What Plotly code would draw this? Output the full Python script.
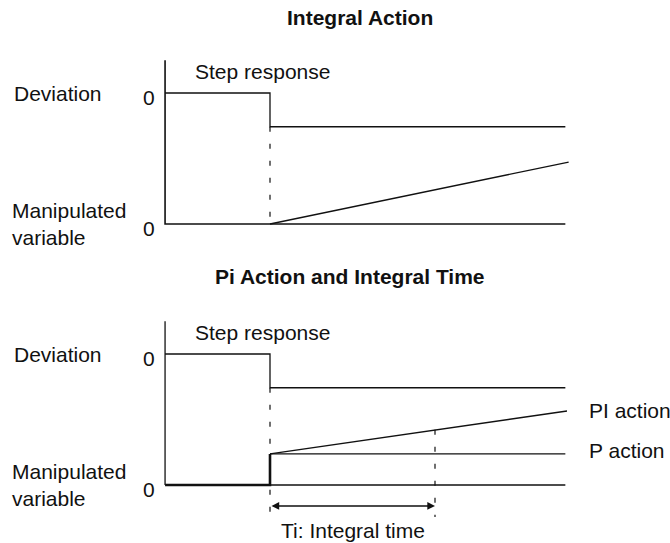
import plotly.graph_objects as go

# time axis: step at t = 0, integral time Ti = 1
t_axis = -0.636
t_step = 0.0
t_end = 1.79
Ti = 1.0

# deviation levels (same in both panels)
dev_zero = 4.0
dev_after = 2.97
axis_top = 5.0
mv_zero = 0.0

# integral action (top panel)
i_time = [0.0, 1.81]
i_value = [0.0, 1.89]

# PI action (bottom panel)
p_level = 0.95
pi_time = [0.0, 1.8]
pi_value = [0.95, 2.26]
pi_at_ti = 1.69
dash_bottom = -0.98
arrow_level = -0.64

FONT = "Liberation Sans, Arial, sans-serif"
BLACK = "#111111"

fig = go.Figure()


def line(x, y, xa, ya, width=1.3, dash=None):
    fig.add_trace(go.Scatter(x=x, y=y, xaxis=xa, yaxis=ya, mode="lines",
                             line=dict(color=BLACK, width=width, dash=dash),
                             hoverinfo="skip", showlegend=False))


# ---- top panel: integral action
line([t_axis, t_axis, t_end], [axis_top, mv_zero, mv_zero], "x", "y", 1.6)
line([t_axis, t_step, t_step, t_end], [dev_zero, dev_zero, dev_after, dev_after], "x", "y")
line([t_step, t_step], [dev_after, mv_zero], "x", "y", 1.2, "5px,12px")
line(i_time, i_value, "x", "y")

# ---- bottom panel: PI action and integral time
line([t_axis, t_axis], [axis_top, mv_zero], "x2", "y2", 1.3)
line([t_axis, t_step, t_step], [mv_zero, mv_zero, p_level], "x2", "y2", 2.6)
line([t_step, t_end], [mv_zero, mv_zero], "x2", "y2", 1.3)
line([t_axis, t_step, t_step, t_end], [dev_zero, dev_zero, dev_after, dev_after], "x2", "y2")
line([t_step, t_end], [p_level, p_level], "x2", "y2")
line(pi_time, pi_value, "x2", "y2")
line([t_step, t_step], [dev_after, dash_bottom], "x2", "y2", 1.2, "5px,12px")
line([Ti, Ti], [pi_at_ti, dash_bottom], "x2", "y2", 1.2, "5px,12px")

txt = dict(size=21, color=BLACK, family=FONT)
ann = []
for xa, ya in [("x", "y"), ("x2", "y2")]:
    ann += [
        dict(x=-1.564, y=dev_zero, xref=xa, yref=ya, text="Deviation",
             xanchor="left", yanchor="middle", showarrow=False, font=txt),
        dict(x=-1.576, y=mv_zero, xref=xa, yref=ya, text="Manipulated<br>variable",
             xanchor="left", yanchor="middle", align="left", showarrow=False, font=txt),
        dict(x=-0.733, y=dev_zero, xref=xa, yref=ya, text="0", yshift=-4,
             xanchor="center", yanchor="middle", showarrow=False, font=txt),
        dict(x=-0.733, y=mv_zero, xref=xa, yref=ya, text="0", yshift=-4,
             xanchor="center", yanchor="middle", showarrow=False, font=txt),
        dict(x=-0.467, y=4.65, xref=xa, yref=ya, text="Step response",
             xanchor="left", yanchor="middle", showarrow=False, font=txt),
    ]

ann += [
    dict(x=1.92, y=pi_value[1], xref="x2", yref="y2", text="PI action",
         xanchor="left", yanchor="middle", showarrow=False, font=txt),
    dict(x=1.92, y=p_level, xref="x2", yref="y2", text="P action", yshift=3,
         xanchor="left", yanchor="middle", showarrow=False, font=txt),
    dict(x=Ti / 2, y=-1.40, xref="x2", yref="y2", text="Ti: Integral time",
         xanchor="center", yanchor="middle", showarrow=False, font=txt),
    # double-headed arrow for Ti
    dict(x=Ti, y=arrow_level, ax=t_step, ay=arrow_level, xref="x2", yref="y2",
         axref="x2", ayref="y2", text="", showarrow=True, arrowhead=2,
         arrowside="end+start", arrowsize=1.1, arrowwidth=1.4, arrowcolor=BLACK),
    dict(x=0.537, y=1 - 17 / 543, xref="paper", yref="paper", text="<b>Integral Action</b>",
         xanchor="center", yanchor="middle", showarrow=False, font=txt),
    dict(x=0.523, y=1 - 276 / 543, xref="paper", yref="paper",
         text="<b>Pi Action and Integral Time</b>",
         xanchor="center", yanchor="middle", showarrow=False, font=txt),
]

split = (543 - 261) / 543
xr = [-270 / 165, 400 / 165]
hidden = dict(visible=False, fixedrange=True)
fig.update_layout(
    width=670, height=543,
    margin=dict(l=0, r=0, t=0, b=0),
    paper_bgcolor="white", plot_bgcolor="white",
    xaxis=dict(range=xr, domain=[0, 1], anchor="y", **hidden),
    yaxis=dict(range=[-37 / 32.75, 224 / 32.75], domain=[split, 1], anchor="x", **hidden),
    xaxis2=dict(range=xr, domain=[0, 1], anchor="y2", **hidden),
    yaxis2=dict(range=[-58 / 32.75, 224 / 32.75], domain=[0, split], anchor="x2", **hidden),
    annotations=ann,
    font=dict(family=FONT),
)

fig.write_html("out.html", config={"displayModeBar": False},
               post_script="document.body.style.margin='0';document.body.style.overflow='hidden';")
